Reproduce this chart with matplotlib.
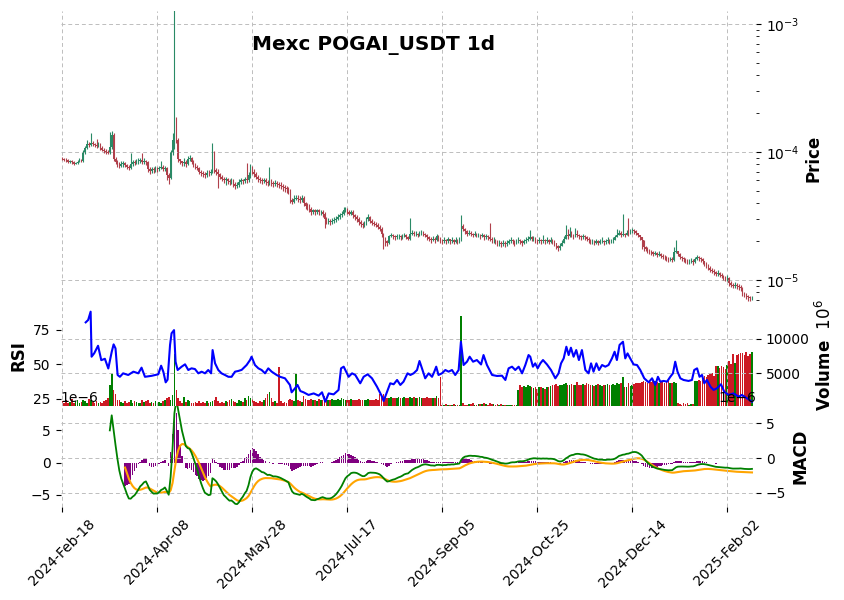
import numpy as np
import pandas as pd
import matplotlib
matplotlib.use("Agg")
import matplotlib.pyplot as plt
from matplotlib.ticker import FixedLocator, NullFormatter

# ---- data (prices in 1e-6 USDT, volume in millions) ----
start_date = "2024-02-18"
first_open = 88.5

close = [
    88, 87, 86, 84, 85, 83, 81, 82, 84, 86,
    85, 100, 108, 115, 113, 118, 116, 114, 112, 115,
    108, 104, 102, 100, 99, 110, 136, 88, 84, 80,
    78, 80, 82, 79, 76, 75, 80, 83, 82, 84,
    85, 86, 84, 85, 83, 74, 71, 73, 72, 74,
    73, 75, 76, 74, 75, 66, 63, 100, 125, 150,
    125, 88, 85, 82, 83, 81, 88, 90, 84, 80,
    77, 75, 70, 68, 67, 66, 69, 68, 70, 98,
    72, 70, 67, 64, 62, 60, 61, 59, 58, 60,
    56, 54, 55, 58, 60, 59, 61, 60, 66, 72,
    70, 67, 64, 61, 60, 59, 60, 58, 57, 59,
    57, 56, 57, 56, 55, 54, 53, 52, 51, 50,
    42, 41, 43, 44, 43, 42, 44, 40, 38, 37,
    36, 34, 35, 34, 35, 34, 34, 33, 30, 29,
    29, 28.5, 29, 29.5, 30, 31, 32, 33, 35, 36,
    34, 33, 34, 32, 31, 30, 28.5, 27.5, 27, 28,
    30, 31, 29, 28, 27.5, 27, 26, 25, 23, 21,
    20, 19.5, 22, 22.5, 22, 21.5, 22, 22, 21.5, 22,
    22.5, 21.5, 21, 23, 23.5, 23, 23, 22.5, 23, 23.5,
    23, 22.5, 21.5, 21, 20.5, 21, 20.5, 22, 21, 20.5,
    20, 20.6, 20.2, 20.8, 20, 20.4, 19.8, 20.5, 20.1, 20.3,
    26.5, 25, 24, 23, 23.5, 23, 22.5, 23, 22.5, 22.5,
    22, 22.5, 21.5, 22, 21.5, 21, 20.5, 20.5, 20, 19.5,
    19.5, 19, 19.5, 19, 19.5, 20, 20.5, 20, 19.5, 20,
    20.5, 20, 19.5, 20, 20.5, 21, 21.5, 21, 21, 20.5,
    20, 20.6, 20.1, 20.7, 20.2, 20.5, 19.9, 20.4, 20, 19.5,
    18.5, 17.8, 18.5, 19.5, 21, 22.5, 22, 23, 22.5, 22,
    23, 22.5, 22, 21.5, 22, 21.5, 21, 20.5, 20, 20,
    19.6, 20.2, 19.5, 20.1, 20.3, 19.7, 20, 20.6, 20.1, 20.3,
    20.5, 21.5, 22.5, 23.5, 22.5, 23, 22.5, 23.5, 23, 24,
    24.5, 24, 23.5, 22.5, 21.5, 20.5, 18, 17.5, 17, 16.8,
    16.5, 16, 16.3, 15.8, 16, 15.5, 15.2, 15, 14.8, 14.5,
    14.6, 14.4, 16.5, 17, 16, 15, 14.8, 14.5, 14.2, 14,
    14, 14.2, 13.8, 14.5, 15, 14.8, 14.5, 14, 13.5, 13,
    12.5, 12, 11.8, 11.5, 11.2, 11.3, 11, 10.8, 10.5, 10.3,
    10.4, 9.4, 9.2, 9, 9.1, 8.9, 8.8, 8.7, 7.9, 7.6,
    7.5, 7.3, 7.2, 7.25,
]

high = [
    91, 90, 89, 88, 87, 87, 85, 84, 87, 89,
    88, 104, 112, 124, 119, 140, 121, 118, 126, 120,
    117, 111, 107, 105, 104, 143, 146, 140, 91, 86,
    83, 85, 85, 84, 80, 79, 98, 87, 86, 88,
    89, 90, 99, 89, 87, 85, 76, 77, 76, 78,
    77, 78, 85, 79, 78, 77, 68, 104, 141, 1290,
    187, 128, 88, 85, 90, 86, 93, 95, 91, 86,
    82, 79, 77, 72, 71, 70, 72, 72, 74, 117,
    101, 75, 73, 69, 66, 64, 64, 63, 62, 63,
    62, 58, 58, 61, 63, 62, 64, 82, 70, 80,
    78, 73, 70, 66, 64, 63, 63, 63, 60, 76,
    61, 59, 60, 59, 58, 58, 56, 55, 54, 53,
    51, 44, 46, 46, 46, 45, 46, 45, 41, 40,
    39, 37, 36, 36, 36, 36, 35, 35, 34, 31,
    30.5, 30, 30.5, 31, 31.5, 32.5, 33.5, 34.5, 37.5, 37.5,
    36.5, 35, 35, 35, 33, 32, 31, 29.5, 28.5, 29,
    31, 33, 31.5, 30, 29, 28.5, 28, 27, 26, 23.5,
    21.5, 20.5, 22.5, 23.5, 23, 22.5, 23, 23, 22.5, 23,
    23.5, 23, 22, 30.5, 24.5, 24, 24, 23.5, 24, 24.5,
    24, 23.5, 23, 22, 21.5, 22, 21.5, 23, 22.5, 21.5,
    21, 21.5, 21, 21.5, 21, 21.5, 21, 21.5, 21, 21.5,
    32, 27.5, 25.5, 24.5, 24.5, 24, 23.5, 24, 23.5, 23.5,
    23, 23.5, 23, 23, 22.5, 28, 21.5, 21.5, 21, 20.5,
    20.5, 20, 20.5, 20, 20.5, 21, 21.5, 21, 20.5, 21,
    21.5, 21, 20.5, 21, 21.5, 22, 24.6, 22, 22, 21.5,
    21, 21.5, 21, 22.5, 21, 21.5, 21, 21.5, 21, 20.5,
    19.5, 18.8, 19.5, 20.5, 22, 27, 25, 26, 24, 23,
    25.5, 24.6, 23, 22.5, 23, 22.5, 22, 21.5, 21, 21,
    20.5, 21, 20.5, 21, 21.5, 20.5, 21, 21.5, 21, 21,
    21.5, 22.5, 25, 24.5, 24, 32.8, 23.5, 24.5, 30.5, 25,
    25.5, 25, 24.5, 23.5, 22.5, 21.5, 20.5, 18.5, 18, 17.5,
    17.3, 17, 17, 16.6, 16.8, 16.2, 16, 15.6, 15.4, 15.2,
    15.2, 15, 18, 20.5, 17, 16.2, 15.5, 15.2, 14.9, 14.6,
    14.6, 14.8, 14.5, 15.2, 15.8, 15.4, 15.1, 14.8, 14.2, 13.8,
    13.3, 12.8, 12.4, 12.1, 11.8, 11.9, 11.6, 11.3, 11, 10.8,
    10.9, 10.5, 9.8, 9.5, 9.6, 9.4, 9.3, 9.1, 8.8, 8.1,
    7.9, 7.7, 7.5, 7.5,
]

low = [
    86, 85, 84, 82, 82, 81, 79, 80, 81, 83,
    83, 84, 97, 105, 109, 111, 112, 110, 107, 109,
    104, 101, 99, 97, 96, 97, 106, 85, 80, 77,
    75, 76, 76, 76, 73, 72, 73, 78, 79, 80,
    81, 82, 81, 81, 79, 70, 67, 69, 69, 70,
    70, 71, 73, 71, 71, 60, 56, 61, 94, 105,
    118, 84, 81, 78, 78, 77, 79, 85, 80, 76,
    74, 72, 67, 65, 64, 63, 64, 65, 66, 68,
    69, 66, 52, 61, 59, 57, 55, 56, 55, 56,
    53, 51, 52, 53, 56, 56, 57, 57, 58, 63,
    67, 64, 61, 58, 57, 56, 57, 55, 54, 55,
    54, 53, 54, 53, 52, 51, 50, 49, 48, 47,
    40, 39, 40, 42, 41, 40, 41, 38, 36, 35,
    34, 32, 33, 32, 33, 32, 32, 31, 25.5, 27.5,
    27.5, 27, 27.5, 28, 28.5, 29.5, 30, 31, 32, 34,
    32.5, 32, 32, 30.5, 29.5, 28.5, 27, 26, 25.5, 26,
    27, 29, 28, 27, 26.5, 26, 25, 24, 21.5, 17.4,
    18.5, 18.5, 19, 21.5, 21, 20.5, 21, 21, 20.5, 21,
    21.5, 21, 20.5, 20.5, 22.5, 22, 22, 21.5, 22, 22.5,
    22, 21.5, 20.5, 20, 19.5, 20, 19.5, 20, 20, 19.5,
    19, 19.5, 19.2, 19.6, 19, 19.4, 19, 19.5, 19.2, 19.4,
    20, 24, 23, 22, 22.5, 22, 21.5, 22, 21.5, 21.5,
    21, 21.5, 20.5, 21, 20.5, 20, 19.5, 19.5, 19, 18.5,
    18.5, 18, 18.5, 18, 18.5, 19, 19.5, 19, 18.5, 19,
    19.5, 19, 18.5, 19, 19.5, 20, 20.5, 20, 20, 19.5,
    19, 19.5, 19, 19.5, 19, 19.5, 19, 19.5, 19, 18.5,
    17.5, 17, 17.3, 18.5, 19.5, 21, 21, 21.5, 21.5, 21,
    21.5, 21.5, 21, 20.5, 21, 20.5, 20, 19.5, 19, 19,
    18.8, 19.2, 18.8, 19, 19.5, 18.8, 19, 19.5, 19.2, 19.3,
    19.5, 20.5, 21.5, 22.5, 21.5, 22, 21.5, 22.5, 22, 23,
    23.5, 23, 22.5, 21.5, 20.5, 17.5, 17, 16.8, 16.2, 16,
    15.8, 15.4, 15.6, 15.2, 15.4, 14.9, 14.6, 14.4, 14.2, 13.9,
    14, 13.9, 14.2, 16.2, 15.4, 14.5, 14.2, 13.9, 13.6, 13.4,
    13.4, 13.6, 13.2, 13.5, 14.3, 14.2, 13.9, 13.4, 12.9, 12.4,
    11.9, 11.5, 11.3, 11, 10.7, 10.8, 10.5, 10.3, 10, 9.9,
    9.9, 9.0, 8.8, 8.6, 8.7, 8.5, 8.4, 8.2, 7.5, 7.3,
    7.1, 6.9, 6.9, 7.0,
]

volume = [
    900, 700, 1100, 600, 800, 1200, 700, 900, 1000, 600,
    800, 1100, 900, 700, 1200, 1000, 800, 600, 900, 700,
    800, 700, 900, 1000, 1300, 3200, 5000, 2500, 1900, 1100,
    1000, 800, 700, 900, 600, 800, 1000, 700, 900, 800,
    600, 700, 1000, 800, 900, 1100, 700, 800, 600, 900,
    700, 800, 600, 900, 1000, 1300, 1500, 1100, 1800, 7800,
    2500, 1300, 900, 700, 1500, 800, 1000, 900, 700, 600,
    800, 700, 900, 600, 800, 700, 900, 600, 800, 900,
    1000, 1500, 900, 700, 800, 600, 900, 800, 1100, 1200,
    900, 800, 700, 1000, 900, 800, 1300, 1000, 1600, 1300,
    1200, 900, 800, 700, 900, 800, 1000, 1300, 2000, 2200,
    1400, 800, 900, 700, 5900, 900, 700, 800, 600, 1000,
    1200, 1000, 900, 4850, 1100, 900, 800, 1600, 1200, 1000,
    1100, 1200, 1000, 1100, 900, 1200, 1100, 1000, 1600, 1200,
    1100, 1000, 1200, 1100, 1000, 1200, 1100, 1300, 1200, 1100,
    1100, 1000, 1200, 1100, 1000, 1100, 1200, 1000, 1100, 1000,
    1100, 1200, 1100, 1000, 1100, 1200, 1100, 2000, 1900, 2000,
    1500, 1400, 1300, 1500, 1400, 1300, 1400, 1500, 1400, 1300,
    1500, 1400, 1300, 1500, 1400, 1500, 1300, 1400, 1500, 1400,
    1300, 1400, 1500, 1400, 1300, 1400, 1400, 1700, 1300, 4500,
    400, 300, 500, 350, 400, 300, 450, 350, 400, 300,
    13400, 700, 400, 350, 500, 450, 600, 400, 350, 550,
    500, 450, 600, 500, 400, 650, 550, 450, 400, 500,
    350, 450, 400, 300, 350, 400, 300, 350, 400, 300,
    2600, 3200, 2900, 3100, 3000, 3200, 3100, 2900, 2800, 3000,
    2700, 2900, 3000, 2800, 2700, 2900, 3000, 3100, 3300, 3200,
    3400, 3100, 3300, 3200, 3400, 3500, 3300, 3200, 3400, 3300,
    3200, 3700, 3300, 3200, 3400, 3300, 3500, 3400, 3200, 3300,
    3100, 3200, 3400, 3300, 3100, 3200, 3300, 3400, 3200, 3300,
    3400, 3300, 3500, 3400, 3600, 4500, 2900, 3000, 3600, 3100,
    3300, 3400, 3500, 3600, 3600, 3700, 3800, 3700, 3600, 3800,
    3700, 3900, 3800, 3700, 3600, 3800, 3700, 3600, 3700, 3800,
    3600, 3500, 3700, 3600, 600, 500, 400, 700, 500, 600,
    400, 500, 450, 3900, 3800, 4000, 3900, 4500, 4600, 4500,
    4700, 4800, 5000, 4600, 6000, 6000, 5800, 6100, 5900, 5600,
    6200, 6800, 6300, 7800, 6500, 7600, 7800, 7900, 8000, 7700,
    8100, 7500, 7800, 8100,
]

# RSI (day index, value)
rsi_day = [
    12.3, 13.6, 14.9, 15.4, 16.8, 18.8, 20.5, 22.4, 24.2, 26, 27, 28, 29.1, 30.3, 32,
    34.7, 37.4, 40, 41.7, 43.5, 47, 50.5, 52, 53.2, 54.4, 55.4, 56.7, 57.5, 58.8, 59.6,
    60.7, 62.8, 64.6, 66.3, 68, 69.8, 71.6, 73.3, 75.1, 76.8, 78.3, 79.1, 80.4, 82.1, 83.8,
    85.6, 87.4, 89.1, 90.9, 92.6, 94.4, 97, 98.8, 99.6, 101.4, 103.2, 104.9, 106.7, 108.4,
    110.2, 112.8, 114.6, 117.2, 119.8, 120.7, 122.5, 123.8, 125.3, 127, 129.6, 132.3,
    134.9, 136.7, 138.4, 140.2, 142.8, 145.4, 146.7, 148.1, 150.7, 152.5, 154.2, 156.8,
    158.6, 160.7, 163, 165.6, 168.3, 169.1, 170.9, 172.6, 174.4, 176.2, 177.9, 179.6,
    181.7, 183.2, 184.9, 186.7, 188, 189.3, 191, 192.8, 194.6, 195.8, 196.8, 198, 199.8,
    201.6, 203.3, 205.1, 206.8, 208.6, 209.8, 211.2, 213, 214.4, 216.2, 218.2, 220.4,
    221.7, 223.5, 226.2, 228.8, 231.4, 233.2, 234.9, 236.7, 238.4, 240.2, 242, 243.7,
    245.4, 246.3, 247.7, 248.9, 250.2, 251.6, 253, 255.1, 257.2, 259.5, 261.2, 262.5,
    263.9, 265.3, 266.5, 267.7, 269.1, 270.5, 271.9, 273.5, 275.3, 277, 278.3, 279.6,
    281.1, 282.5, 284.1, 285.8, 287.5, 289.3, 290.7, 291.9, 293.3, 295.1, 296.3, 297.5,
    298.9, 300.7, 302.5, 304.2, 306.3, 308.6, 310.4, 312.1, 313.5, 314.7, 316.5, 318.3,
    320, 321.4, 322.6, 323.8, 325.3, 327, 329.6, 331.4, 332.6, 334.1, 335.4, 336.7,
    337.9, 339.3, 341.1, 342.8, 344.6, 346.7, 348.4, 350.7, 353.3, 356, 357.7, 360.4, 363,
]
rsi_val = [
    80.3, 82, 88, 55.5, 58, 63.4, 53, 54, 47, 59, 64.4, 61.5, 42.3, 41, 43.5,
    42.3, 44.7, 43.5, 47.6, 41, 41.7, 42.8, 49, 44.5, 37, 38.9, 64, 72.4, 74.7, 51.9,
    45.9, 48.3, 50, 45.9, 47.1, 46.6, 43.5, 44.7, 43.5, 45.9, 43.5, 60.3, 50.7, 45.9, 43.5,
    42.3, 41, 41, 44.7, 45.2, 46, 49.5, 53.1, 55.5, 49.5, 47.1, 45.9, 43.5, 47.1,
    44.7, 42.3, 41, 39.9, 35.1, 29.8, 32.7, 35.1, 30.7, 29.8, 27.9, 29,
    27.4, 29.8, 23, 29, 28.3, 31.5, 47.1, 48.3, 41, 43.5, 42.3, 36.3,
    41, 42.8, 39.9, 33.9, 26.6, 23.5, 30.2, 36.3, 35.6, 38.7, 35.1, 37.5,
    43.5, 42.3, 43.5, 45.9, 52.4, 47.1, 39.9, 43.5, 41, 44.7, 48.3, 42.3, 43.5,
    45.9, 44.7, 45.9, 42.3, 45.9, 66.3, 49.5, 51.9, 55.5, 51.9, 53.1, 49.9,
    56.7, 49.5, 42.3, 41.6, 41.8, 38.7, 47.1, 48.3, 45.9, 48.3, 43.5, 49.5,
    56.7, 55.5, 48.3, 50.7, 47.1, 50.7, 53.1, 49.9, 45.9, 39.9, 43.5, 50.7,
    54.3, 62.7, 56.7, 62, 55.5, 60.3, 53.1, 60.3, 45.9, 43.5, 50.7, 44.7,
    50.7, 45.9, 49.5, 48.3, 49.5, 54.3, 59.1, 53.1, 64, 66.3, 54.3, 57.9,
    54.3, 49.9, 49.5, 45.9, 39.9, 37, 39.9, 35.1, 41, 37.5, 38, 37.5,
    41, 43.5, 51.9, 44.7, 39.9, 38.7, 38, 38.7, 45.9, 47.1, 41, 42.3,
    36.3, 38.7, 33.9, 31.5, 32.7, 35.6, 30.2, 27.9, 29, 26.6, 27.9, 25.5, 23,
]

assert len(close) == len(high) == len(low) == len(volume)
assert len(rsi_day) == len(rsi_val)

# ---- derived series ----
n = len(close)
days = np.arange(n)
dates = pd.date_range(start_date, periods=n, freq="D")
c = np.array(close) * 1e-6
o = np.r_[first_open, close[:-1]] * 1e-6
h = np.array(high) * 1e-6
l = np.array(low) * 1e-6
up = c >= o

s = pd.Series(c)
ema12 = s.ewm(span=12, adjust=False, min_periods=12).mean()
ema26 = s.ewm(span=26, adjust=False, min_periods=26).mean()
macd = ema12 - ema26
signal = macd.ewm(span=9, adjust=False, min_periods=9).mean()
hist = macd - signal

# ---- figure ----
up_col, down_col = "#2a8a66", "#b0404b"
vol_up, vol_down = "#008000", "#cc1a24"
grid_kw = dict(color="#bdbdbd", linestyle=(0, (4, 3)), linewidth=0.7)

fig = plt.figure(figsize=(8.44, 6), dpi=100)
L, W = 0.0717, 0.824
ax1 = fig.add_axes([L, 0.4917, W, 0.49])
ax2 = fig.add_axes([L, 0.3233, W, 0.1683], sharex=ax1)
ax3 = fig.add_axes([L, 0.155, W, 0.1683], sharex=ax1)

# price panel
ax1.set_yscale("log")
cols = np.where(up, up_col, down_col)
ax1.vlines(days, l, h, colors=cols, linewidth=0.8)
body_lo = np.minimum(o, c)
body_hi = np.maximum(o, c)
ax1.bar(days, body_hi - body_lo, bottom=body_lo, width=0.8, color=cols, linewidth=0)
ax1.set_ylim(6.38e-6, 1.264e-3)
ax1.yaxis.tick_right()
ax1.yaxis.set_label_position("right")
ax1.yaxis.set_minor_formatter(NullFormatter())
ax1.set_ylabel("Price", fontsize=12, fontweight="bold")
ax1.grid(True, which="major", **grid_kw)

# volume + RSI panel
ax2r = ax2.twinx()
vcols = np.where(up, vol_up, vol_down)
ax2.bar(days, volume, width=0.85, color=vcols, linewidth=0)
ax2.set_ylim(190, 14950)
ax2.yaxis.set_major_locator(FixedLocator([5000, 10000]))
ax2.yaxis.tick_right()
ax2.yaxis.set_label_position("right")
ax2.set_ylabel("Volume  $10^{6}$", fontsize=12, fontweight="bold")
ax2.grid(True, **grid_kw)

ax2r.plot(rsi_day, rsi_val, color="blue", linewidth=1.5)
ax2r.set_ylim(19.9, 92.8)
ax2r.yaxis.set_major_locator(FixedLocator([25, 50, 75]))
ax2r.yaxis.tick_left()
ax2r.yaxis.set_label_position("left")
ax2r.set_ylabel("RSI", fontsize=12, fontweight="bold")

# MACD panel: MACD line on the right axis, signal + histogram on the left axis
ax3l = ax3.twinx()
ax3l.bar(days, hist, width=0.8, color="purple", linewidth=0)
ax3l.plot(days, signal, color="orange", linewidth=1.5)
ax3l.set_ylim(-6.92e-6, 8.79e-6)
ax3l.yaxis.set_major_locator(FixedLocator([-5e-6, 0, 5e-6]))
ax3l.yaxis.tick_left()
ax3l.yaxis.set_label_position("left")
ax3l.yaxis.set_offset_position("left")

ax3.plot(days, macd, color="green", linewidth=1.3)
ax3.set_ylim(-7.06e-6, 7.5e-6)
ax3.yaxis.set_major_locator(FixedLocator([-5e-6, 0, 5e-6]))
ax3.yaxis.tick_right()
ax3.yaxis.set_label_position("right")
ax3.yaxis.set_offset_position("right")
ax3.set_ylabel("MACD", fontsize=12, fontweight="bold")
ax3.grid(True, **grid_kw)
ax3.set_zorder(ax3l.get_zorder() + 1)
ax3.patch.set_visible(False)

# x axis
tick_days = np.arange(0, n, 50)
ax3.set_xlim(-0.95, 365.1)
ax3.xaxis.set_major_locator(FixedLocator(tick_days))
ax3.set_xticklabels([dates[d].strftime("%Y-%b-%d") for d in tick_days], rotation=45, ha="center")
for ax in (ax1, ax2, ax2r, ax3l):
    ax.tick_params(axis="x", bottom=False, labelbottom=False)

for ax in (ax1, ax2, ax2r, ax3, ax3l):
    for sp in ax.spines.values():
        sp.set_visible(False)

fig.text(0.443, 0.925, "Mexc POGAI_USDT 1d", ha="center", va="center",
         fontsize=14.4, fontweight="bold")

fig.savefig("out.png", dpi=100)
